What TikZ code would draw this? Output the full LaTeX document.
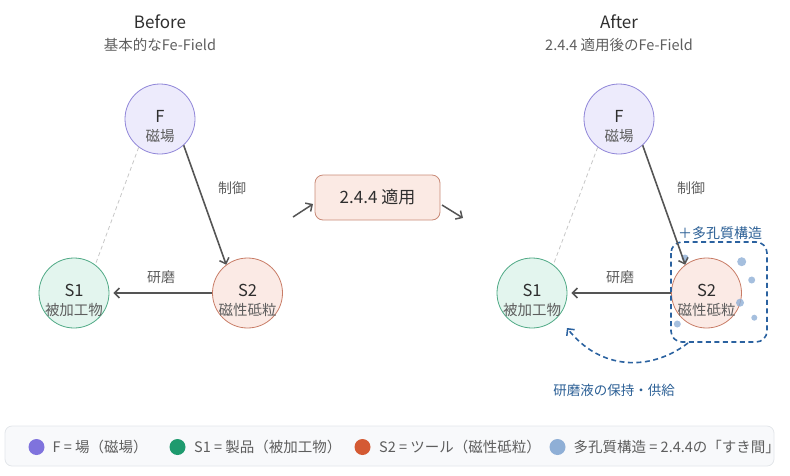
\documentclass[tikz,border=0pt]{standalone}
\usepackage{fontspec}
\setmainfont{Noto Sans CJK JP}
\usetikzlibrary{arrows.meta,calc}
\definecolor{txt}{HTML}{2E2E2E}
\definecolor{subtxt}{HTML}{5E5E5E}
\definecolor{arr}{HTML}{555555}
\definecolor{Ffill}{HTML}{EDEBFC}
\definecolor{Fdraw}{HTML}{8F85D8}
\definecolor{Sonefill}{HTML}{E3F5EE}
\definecolor{Sonedraw}{HTML}{4FA985}
\definecolor{Stwofill}{HTML}{FBEAE5}
\definecolor{Stwodraw}{HTML}{C87C66}
\definecolor{boxfill}{HTML}{FBEAE4}
\definecolor{boxdraw}{HTML}{C98A77}
\definecolor{blu}{HTML}{2B62A0}
\definecolor{blutxt}{HTML}{2B5F95}
\definecolor{dot}{HTML}{8FAFD6}
\definecolor{legF}{HTML}{7F73DD}
\definecolor{legSone}{HTML}{1E9A6E}
\definecolor{legStwo}{HTML}{D45A33}
\definecolor{legfill}{HTML}{F8F9FB}
\definecolor{legdraw}{HTML}{E3E6EA}
\tikzset{
  fs/.style={font=\fontsize{#1}{#1}\selectfont},
  circ/.style={circle,minimum size=70pt,inner sep=0pt,line width=0.8pt},
  fnode/.style={circ,fill=Ffill,draw=Fdraw},
  sonenode/.style={circ,fill=Sonefill,draw=Sonedraw},
  stwonode/.style={circ,fill=Stwofill,draw=Stwodraw},
  mainlbl/.style={fs=16.5,text=txt,inner sep=0pt},
  sublbl/.style={fs=14.5,text=subtxt,inner sep=0pt},
  edgelbl/.style={fs=14,text=subtxt,inner sep=0pt},
  tip/.style={-{Straight Barb[length=5pt,width=10pt,line width=1.5pt]}},
  mainarrow/.style={draw=arr,line width=1.6pt,tip},
  weak/.style={draw=black!22,line width=0.8pt,dash pattern=on 4pt off 3pt},
  bluedash/.style={draw=blu,line width=1.6pt,dash pattern=on 5pt off 3.5pt},
  pdot/.style={fill=dot,opacity=0.8},
  legdot/.style={circle,minimum size=16pt,inner sep=0pt},
  legtext/.style={fs=14.5,text=subtxt,anchor=west,inner sep=0pt},
}
\begin{document}
\begin{tikzpicture}[x=1pt,y=-1pt]
\useasboundingbox (0,0) rectangle (790,475);
% ---------- Before ----------
\node[fs=17,text=txt] (bt) at (160,22) {Before};
\node[fs=14.5,text=subtxt] (bs) at (160,45) {基本的なFe-Field};
\node[fnode] (F) at (160,119) {};
\node[sonenode] (S1) at (74,293) {};
\node[stwonode] (S2) at (247.5,293) {};
\node[mainlbl] (Fa) at ($(F)+(0,-3)$) {F};
\node[sublbl] (Fb) at ($(F)+(0,17)$) {磁場};
\node[mainlbl] (S1a) at ($(S1)+(0,-3)$) {S1};
\node[sublbl] (S1b) at ($(S1)+(0,17)$) {被加工物};
\node[mainlbl] (S2a) at ($(S2)+(0,-3)$) {S2};
\node[sublbl] (S2b) at ($(S2)+(0,17)$) {磁性砥粒};
\draw[weak] (F.233) -- (S1.53);
\draw[mainarrow] (F.-48) -- (S2.127);
\draw[mainarrow,shorten >=4pt] (S2.west) -- (S1.east);
\node[edgelbl] (c1) at (232,188) {制御};
\node[edgelbl] (k1) at (161,277) {研磨};
% ---------- middle ----------
\node[rounded corners=8pt,fill=boxfill,draw=boxdraw,line width=0.8pt,minimum width=125pt,minimum height=45pt,fs=17,text=txt] (apply) at (377.5,197.5) {2.4.4 適用};
\coordinate (a1) at (293,217);
\coordinate (a2) at (313,204);
\coordinate (b1) at (442,205);
\coordinate (b2) at (463,218);
\draw[draw=arr,line width=1.5pt,tip] (a1) -- (a2);
\draw[draw=arr,line width=1.5pt,tip] (b1) -- (b2);
% ---------- After ----------
\node[fs=17,text=txt] (at) at (619,22) {After};
\node[fs=14.5,text=subtxt] (as) at (619,45) {2.4.4 適用後のFe-Field};
\node[fnode] (F2) at (619,119) {};
\node[sonenode] (T1) at (532,293) {};
\node[stwonode] (T2) at (706.5,293) {};
\draw[rounded corners=11pt,bluedash] (671,242) rectangle (767,342);
\fill[pdot] (685,258) circle (3.5);
\fill[pdot] (741.7,261.7) circle (4.5);
\fill[pdot] (751.7,280) circle (3.5);
\fill[pdot] (740,302.7) circle (4);
\fill[pdot] (677.3,324) circle (3.5);
\fill[pdot] (754.3,317.7) circle (3);
\node[mainlbl] (F2a) at ($(F2)+(0,-3)$) {F};
\node[sublbl] (F2b) at ($(F2)+(0,17)$) {磁場};
\node[mainlbl] (T1a) at ($(T1)+(0,-3)$) {S1};
\node[sublbl] (T1b) at ($(T1)+(0,17)$) {被加工物};
\node[mainlbl] (T2a) at ($(T2)+(0,-3)$) {S2};
\node[sublbl] (T2b) at ($(T2)+(0,17)$) {磁性砥粒};
\draw[weak] (F2.233) -- (T1.53);
\draw[mainarrow] (F2.-48) -- (T2.127);
\draw[mainarrow,shorten >=4pt] (T2.west) -- (T1.east);
\node[edgelbl] (c2) at (691,188) {制御};
\node[edgelbl] (k2) at (620,277) {研磨};
\node[fs=14,text=blutxt] (porous) at (720,233) {＋多孔質構造};
\coordinate (cs) at (688,343);
\coordinate (ce) at (567,328);
\draw[bluedash,tip] (cs) .. controls (650,372) and (600,370) .. (ce);
\node[fs=13.5,text=blutxt] (supply) at (614,390) {研磨液の保持・供給};
% ---------- legend ----------
\draw[rounded corners=7pt,fill=legfill,draw=legdraw,line width=0.8pt] (5,426) rectangle (774,466);
\node[legdot,fill=legF] (l1) at (36.5,447) {};
\node[legtext] (l1t) at (52.5,447) {F = 場（磁場）};
\node[legdot,fill=legSone] (l2) at (177.5,447) {};
\node[legtext] (l2t) at (194,447) {S1 = 製品（被加工物）};
\node[legdot,fill=legStwo] (l3) at (362.5,447) {};
\node[legtext] (l3t) at (379,447) {S2 = ツール（磁性砥粒）};
\node[legdot,fill=dot] (l4) at (557.5,447) {};
\node[legtext] (l4t) at (573.5,447) {多孔質構造 = 2.4.4の「すき間」};
\end{tikzpicture}
\end{document}
